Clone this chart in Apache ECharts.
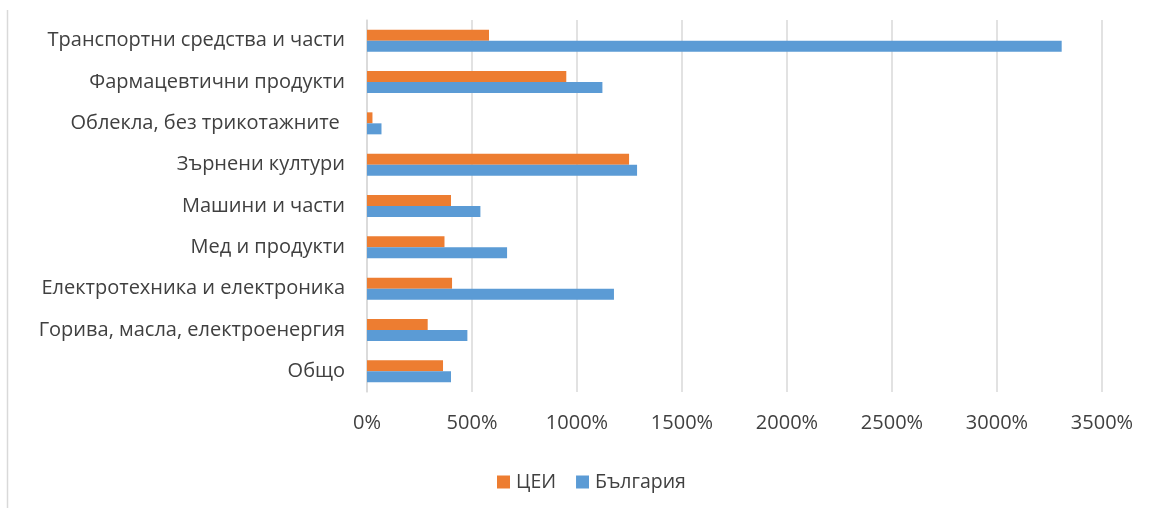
<!DOCTYPE html>
<html><head><meta charset="utf-8">
<script src="https://cdn.jsdelivr.net/npm/echarts@6/dist/echarts.min.js"></script>
<style>html,body{margin:0;padding:0;background:#fff}#c{width:1156px;height:508px}</style>
</head><body><div id="c"></div>
<script>
const categories = ['Транспортни средства и части','Фармацевтични продукти','Облекла, без трикотажните ','Зърнени култури','Машини и части','Мед и продукти','Електротехника и електроника','Горива, масла, електроенергия','Общо'];
const seriesNames = ['ЦЕИ','България'];
const ceiValues = [581, 949, 26, 1248, 400, 369, 405, 289, 362];
const bgValues = [3308, 1121, 69, 1286, 540, 667, 1176, 478, 400];
const xTicks = [0, 500, 1000, 1500, 2000, 2500, 3000, 3500];

const chart = echarts.init(document.getElementById('c'), null, {renderer:'canvas'});
const font = '"Open Sans", "Noto Sans", sans-serif';
chart.setOption({
  animation:false,
  textStyle:{fontFamily:font},
  grid:{left:367, right:54, top:20, bottom:116, containLabel:false},
  legend:{
    data:seriesNames, left:492, top:467, itemWidth:13, itemHeight:13, itemGap:20,
    icon:'rect', textStyle:{fontSize:19.5, color:'#404040', fontFamily:font, padding:[0,0,0,1]}
  },
  xAxis:{
    type:'value', min:xTicks[0], max:xTicks[xTicks.length-1], interval:500,
    axisLine:{show:false}, axisTick:{show:false},
    splitLine:{lineStyle:{color:'#d9d9d9', width:1.5}},
    axisLabel:{formatter:v=>v+'%', fontSize:20, color:'#404040', margin:21, fontFamily:font}
  },
  yAxis:{
    type:'category', data:categories, inverse:true,
    axisLine:{show:true, lineStyle:{color:'#d9d9d9', width:1.5}}, axisTick:{show:false},
    axisLabel:{fontSize:20, color:'#404040', margin:22, fontFamily:font}
  },
  series:[
    {name:seriesNames[0], type:'bar', data:ceiValues, barWidth:11, barGap:'0%', itemStyle:{color:'#ED7D31'}},
    {name:seriesNames[1], type:'bar', data:bgValues, barWidth:11, barGap:'0%', itemStyle:{color:'#5B9BD5'}}
  ],
  graphic:[{type:'line', shape:{x1:7.5,y1:10,x2:7.5,y2:508}, style:{stroke:'#d9d9d9', lineWidth:1.5}}]
});
</script></body></html>
